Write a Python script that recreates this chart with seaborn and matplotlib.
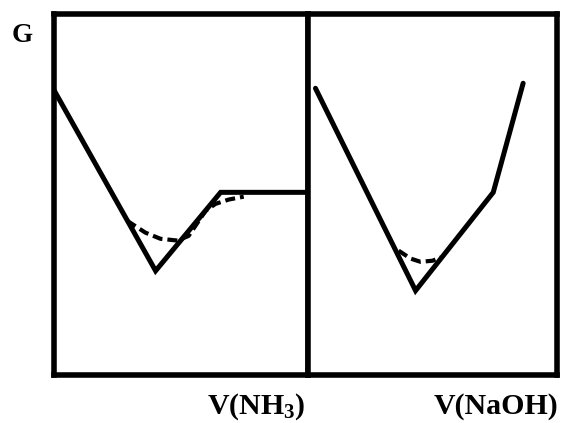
import matplotlib
matplotlib.use("Agg")
import matplotlib.pyplot as plt
import seaborn as sns
import pandas as pd

sns.set_style("white")
plt.rcParams['font.family'] = ['Liberation Serif', 'DejaVu Serif']
plt.rcParams['mathtext.default'] = 'regular'
plt.rcParams['text.color'] = 'black'

# Left panel: G vs V(NH3)
nh3_v = [0.0, 4.0, 6.56, 10.0]
nh3_g = [7.9, 2.88, 5.06, 5.06]
nh3_dash_v = [2.88, 3.6, 4.19, 4.86, 5.3, 5.97, 6.36, 6.88, 7.47]
nh3_dash_g = [4.27, 3.94, 3.77, 3.72, 3.85, 4.55, 4.74, 4.86, 4.94]

# Right panel: G vs V(NaOH)
naoh_v = [0.3, 4.32, 7.44, 8.64]
naoh_g = [7.95, 2.33, 5.06, 8.09]
naoh_dash_v = [3.64, 4.12, 4.52, 5.0, 5.32]
naoh_dash_g = [3.44, 3.22, 3.13, 3.16, 3.25]

W, H = 564, 423
fig = plt.figure(figsize=(W / 100, H / 100), dpi=100)
top_px, bot_px = 14.5, 374.5
bottom = 1 - bot_px / H
height = (bot_px - top_px) / H
ax1 = fig.add_axes([54 / W, bottom, 254 / W, height])
ax2 = fig.add_axes([308 / W, bottom, 249 / W, height])

lw = 3.6
for ax, v, g, dv, dg in [
    (ax1, nh3_v, nh3_g, nh3_dash_v, nh3_dash_g),
    (ax2, naoh_v, naoh_g, naoh_dash_v, naoh_dash_g),
]:
    sns.lineplot(x=v, y=g, ax=ax, color='black', lw=lw, sort=False,
                 estimator=None, solid_joinstyle='miter')
    sns.lineplot(x=dv, y=dg, ax=ax, color='black', lw=3.0, sort=False,
                 estimator=None, linestyle=(0, (2.4, 1.2)))
    ax.set_xlim(0, 10)
    ax.set_ylim(0, 10)
    ax.set_xticks([])
    ax.set_yticks([])
    ax.set_xlabel('')
    ax.set_ylabel('')
    for s in ax.spines.values():
        s.set_visible(True)
        s.set_color('black')
        s.set_linewidth(4.0)

fig.text(22 / W, 1 - 36 / H, 'G', ha='center', va='center',
         fontsize=19.5, fontweight='bold', color='black')
fig.text(305 / W, 1 - 414 / H, 'V(NH$_3$)', ha='right', va='baseline',
         fontsize=21.5, fontweight='bold', color='black')
fig.text(558 / W, 1 - 414 / H, 'V(NaOH)', ha='right', va='baseline',
         fontsize=21.5, fontweight='bold', color='black')

fig.savefig('out.png', dpi=100)
